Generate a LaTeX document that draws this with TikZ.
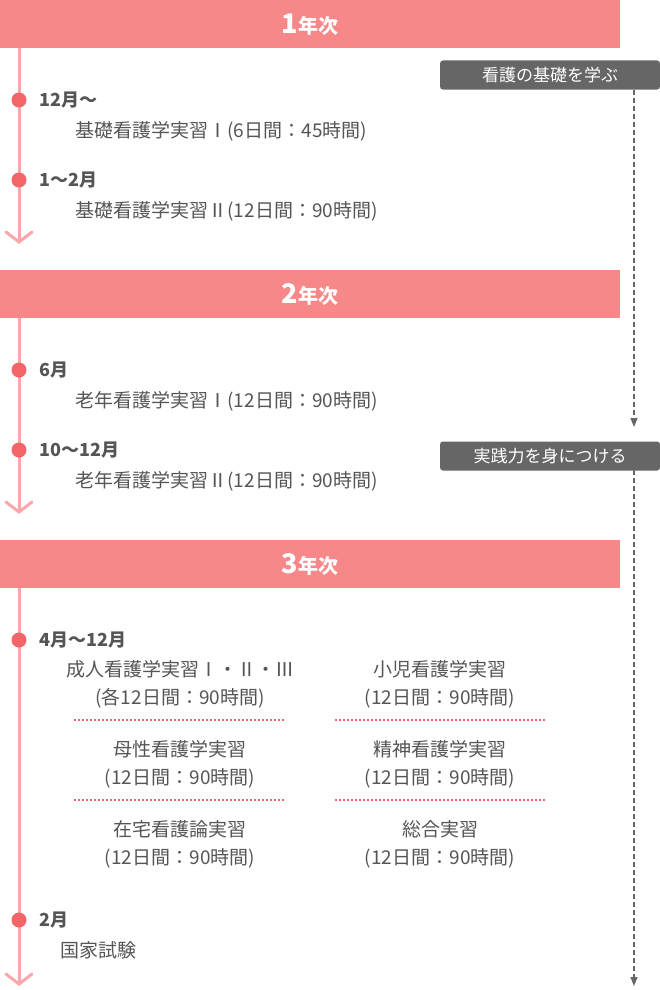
\documentclass[tikz,border=0pt]{standalone}
\usepackage{fontspec}
\setmainfont{Noto Sans CJK JP}
\usetikzlibrary{arrows.meta,positioning}
\definecolor{barpink}{HTML}{F7888A}
\definecolor{linepink}{HTML}{F9A7AA}
\definecolor{dotred}{HTML}{F26568}
\definecolor{txtgray}{HTML}{555555}
\definecolor{tagray}{HTML}{666666}
\tikzset{
  yearbar/.style={fill=barpink,draw=none,minimum width=620pt,minimum height=48pt,anchor=north west,inner sep=0pt,text=white,font=\bfseries},
  tline/.style={linepink,line width=3pt},
  tdot/.style={circle,fill=dotred,minimum size=15pt,inner sep=0pt},
  month/.style={anchor=west,text=txtgray,font=\fontsize{18}{18}\selectfont\bfseries},
  course/.style={anchor=west,text=txtgray,font=\fontsize{19}{19}\selectfont},
  cell/.style={align=center,text=txtgray,font=\fontsize{19}{28}\selectfont},
  tag/.style={fill=tagray,rounded corners=3pt,minimum width=220pt,minimum height=29pt,inner sep=0pt,text=white,font=\fontsize{17}{17}\selectfont},
  sep/.style={dotred,line width=1.2pt,dash pattern=on 2pt off 2pt},
  flow/.style={tagray,line width=1.2pt,dash pattern=on 5pt off 3pt,-{Triangle[length=9pt,width=7pt]}}
}
\newcommand{\chev}[1]{\draw[tline,line cap=round] ($(#1)+(-13,-10)$) -- (#1) -- ($(#1)+(13,-10)$);}
\newcommand{\yr}[1]{\fontsize{27}{27}\selectfont #1\fontsize{20}{20}\selectfont 年次}
\usetikzlibrary{calc}
\begin{document}
\begin{tikzpicture}[x=1pt,y=-1pt]
\useasboundingbox (0,0) rectangle (660,990);

% --- Year bars ---
\node[yearbar] (y1) at (0,0) {\yr{1}};
\node[yearbar] (y2) at (0,270) {\yr{2}};
\node[yearbar] (y3) at (0,540) {\yr{3}};

% --- Timelines ---
\coordinate (e1) at (19,242);
\coordinate (e2) at (19,512);
\coordinate (e3) at (19,984);
\draw[tline] (19,48) -- (e1); \chev{e1}
\draw[tline] (19,318) -- (e2); \chev{e2}
\draw[tline] (19,588) -- (e3); \chev{e3}

% --- Dots and months ---
\foreach \n/\y/\m in {a/100/12月～, b/180/1～2月, c/370/6月, d/450/10～12月, e/640/4月～12月, f/920/2月}{
  \node[tdot] (d\n) at (19,\y) {};
  \node[month] (m\n) at (36,\y) {\m};
}

% --- Courses ---
\node[course] (ca) at (72,131) {基礎看護学実習Ⅰ(6日間：45時間)};
\node[course] (cb) at (72,211) {基礎看護学実習Ⅱ(12日間：90時間)};
\node[course] (cc) at (72,401) {老年看護学実習Ⅰ(12日間：90時間)};
\node[course] (cd) at (72,481) {老年看護学実習Ⅱ(12日間：90時間)};
\node[course] (cf) at (57,950) {国家試験};

% 3rd year grid
\node[cell] (g1) at (180,684) {成人看護学実習Ⅰ・Ⅱ・Ⅲ\\(各12日間：90時間)};
\node[cell] (g2) at (440,684) {小児看護学実習\\(12日間：90時間)};
\node[cell] (g3) at (180,764) {母性看護学実習\\(12日間：90時間)};
\node[cell] (g4) at (440,764) {精神看護学実習\\(12日間：90時間)};
\node[cell] (g5) at (180,844) {在宅看護論実習\\(12日間：90時間)};
\node[cell] (g6) at (440,844) {総合実習\\(12日間：90時間)};
\draw[sep] (74,720) -- (286,720);
\draw[sep] (335,720) -- (546,720);
\draw[sep] (74,800) -- (286,800);
\draw[sep] (335,800) -- (546,800);

% --- Side tags ---
\node[tag] (t1) at (550,75) {看護の基礎を学ぶ};
\node[tag] (t2) at (550,456) {実践力を身につける};
\coordinate (f1) at (634,90);
\coordinate (f2) at (634,427);
\coordinate (f3) at (634,470);
\coordinate (f4) at (634,986);
\draw[flow] (f1) -- (f2);
\draw[flow] (f3) -- (f4);
\end{tikzpicture}
\end{document}
